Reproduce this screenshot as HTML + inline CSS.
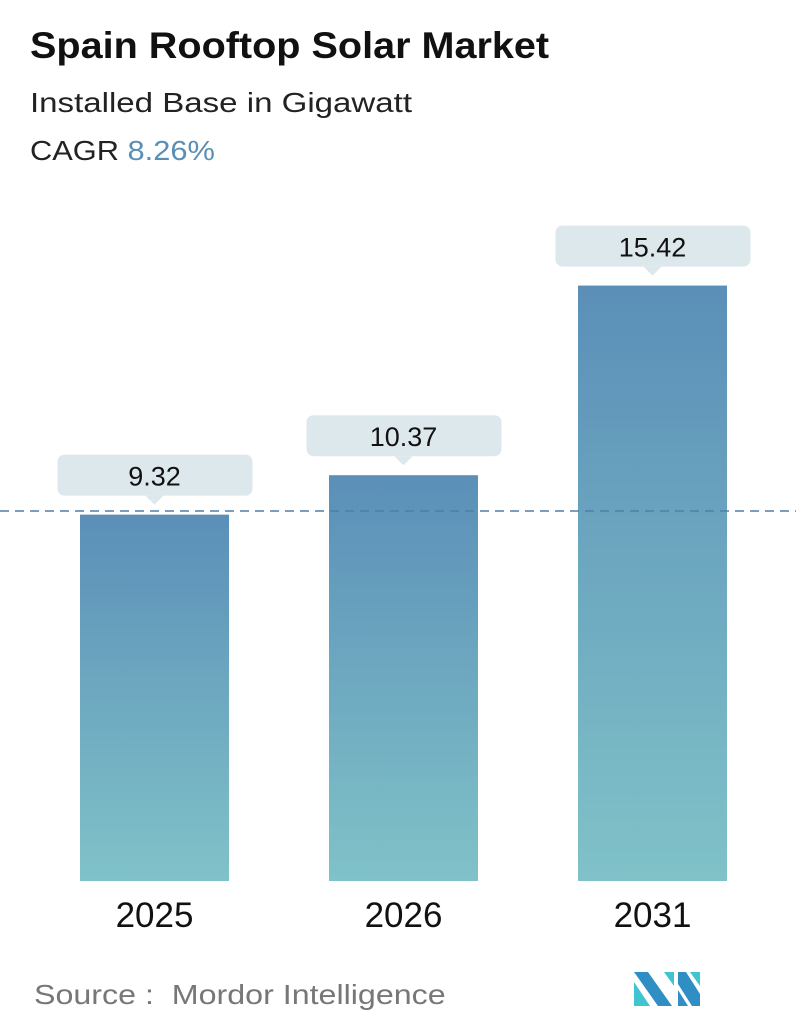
<!DOCTYPE html>
<html><head><meta charset="utf-8"><style>
body{margin:0;width:796px;height:1034px;background:#fff;font-family:"Liberation Sans",sans-serif;overflow:hidden;position:relative}
.t{position:absolute;left:30px;white-space:nowrap;transform-origin:0 0}
</style></head><body>
<div class="t" style="top:25px;font-size:37px;font-weight:bold;color:#111;transform:scaleX(1.07)">Spain Rooftop Solar Market</div>
<div class="t" style="top:87px;font-size:28px;color:#222;transform:scaleX(1.18)">Installed Base in Gigawatt</div>
<div class="t" style="top:135px;font-size:28px;color:#222;transform:scaleX(1.1)">CAGR <span style="color:#5a8fb5">8.26%</span></div>
<svg id="chart" width="796" height="1034" style="position:absolute;left:0;top:0">
<defs><linearGradient id="g" x1="0" y1="0" x2="0" y2="1"><stop offset="0" stop-color="#5b8fb8"/><stop offset="1" stop-color="#80c2c8"/></linearGradient></defs>
</svg>
<div class="t" style="top:979px;left:34px;font-size:28px;color:#777;transform:scaleX(1.15)">Source :&nbsp; Mordor Intelligence</div>
<svg width="66" height="36" style="position:absolute;left:634px;top:972px">
<polygon points="0,0 14,0 38,34 24,34" fill="#2f8fc4"/><polygon points="0,10 16,34 0,34" fill="#3fc4d0"/>
<polygon points="30,0 40,0 40,14" fill="#3fc4d0"/><polygon points="44,0 52,0 66,22 66,34 58,34 44,12" fill="#2f8fc4"/><polygon points="56,0 66,0 66,14" fill="#3fc4d0"/><polygon points="44,18 54,34 44,34" fill="#2f8fc4"/>
</svg>
<script>
const categories=["2025","2026","2031"];
const values=[9.32,10.37,15.42];
const labels=["9.32","10.37","15.42"];
const svg=document.getElementById('chart');const NS='http://www.w3.org/2000/svg';
const base=881,k=37.55,vmin=-0.437;
const y=v=>base-(v-vmin)*k;
const x=i=>80+i*249;
const bw=149;
function mk(t,a){const e=document.createElementNS(NS,t);for(const q in a)e.setAttribute(q,a[q]);svg.appendChild(e);return e;}
categories.forEach((c,i)=>{
 const top=y(values[i]);
 const r=mk('rect',{x:x(i),y:top,width:bw,height:base-top,fill:'url(#g)'});
 
 
 const cx=x(i)+bw/2;
 const b=mk('rect',{x:cx-97,y:top-60,width:195,height:41,rx:7,fill:'#dde8ec'});
 
 
 mk('polygon',{points:`${cx-9},${top-19} ${cx+9},${top-19} ${cx},${top-10}`,fill:'#dde8ec'});
 const t=mk('text',{x:cx,y:top-29,'text-anchor':'middle','font-size':27,fill:'#111','font-family':'Liberation Sans'});
 t.textContent=labels[i];
 
 
 const xl=mk('text',{x:cx,y:927,'text-anchor':'middle','font-size':35,fill:'#111','font-family':'Liberation Sans'});
 xl.textContent=c;
 
 
});
const d=mk('line',{x1:0,x2:796,y1:511,y2:511,stroke:'#4f7fa5','stroke-width':1.5,'stroke-dasharray':'9,6'});


</script>
</body></html>
